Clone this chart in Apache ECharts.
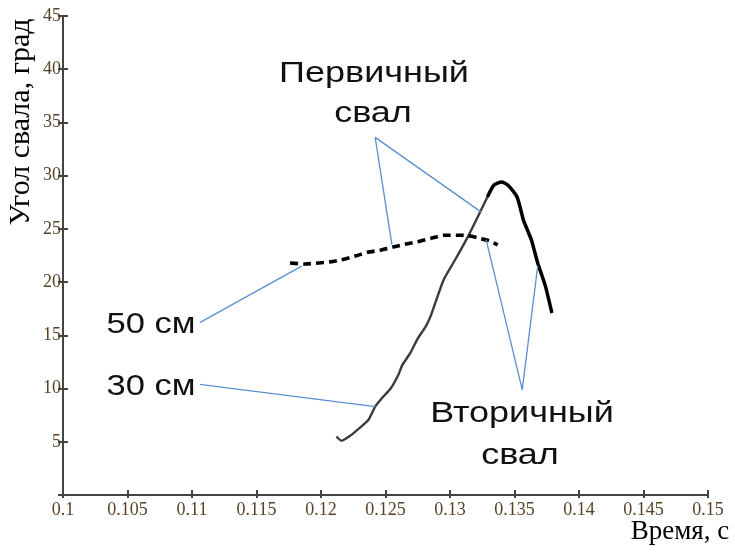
<!DOCTYPE html>
<html>
<head>
<meta charset="utf-8">
<script src="https://cdn.jsdelivr.net/npm/echarts@6/dist/echarts.min.js"></script>
<style>html,body{margin:0;padding:0;background:#fff}#c{width:735px;height:556px}</style>
</head>
<body>
<div id="c"></div>
<script>
// ---- Data ----
// 50 cm curve (dashed): time [s], angle [deg]
const time50 = [0.1176, 0.1188, 0.1198, 0.1207, 0.1216, 0.1228, 0.1236, 0.1246, 0.1256, 0.1267, 0.1275, 0.1285, 0.1295, 0.1309, 0.1317, 0.1323, 0.1330, 0.1337];
const angle50 = [21.8, 21.7, 21.8, 21.9, 22.1, 22.5, 22.8, 23.0, 23.3, 23.6, 23.8, 24.1, 24.4, 24.4, 24.3, 24.1, 23.9, 23.5];
// 30 cm curve, rising part (thin grey)
const time30rise = [0.1212, 0.1216, 0.1223, 0.1230, 0.1237, 0.1242, 0.1248, 0.1254, 0.1260, 0.1263, 0.1269, 0.1275, 0.1281, 0.1285, 0.1295, 0.1304, 0.1314, 0.1323, 0.1329];
const angle30rise = [5.5, 5.1, 5.6, 6.3, 7.1, 8.3, 9.2, 10.0, 11.3, 12.2, 13.3, 14.7, 15.8, 16.8, 20.2, 22.1, 24.3, 26.5, 28.0];
// 30 cm curve, peak and falling part (thick black)
const time30fall = [0.1329, 0.1334, 0.1340, 0.1345, 0.1352, 0.1357, 0.1363, 0.1368, 0.1374, 0.1379];
const angle30fall = [28.0, 29.1, 29.4, 29.1, 28.0, 25.8, 24.0, 21.8, 19.6, 17.1];
// Axis ticks
const xMin = 0.1, xMax = 0.15, xStep = 0.005;
const yMin = 0, yMax = 45, yStep = 5;
// Labels
const yName = 'Угол свала, град';
const xName = 'Время, с';
const notePrimary = ['Первичный', 'свал'];
const noteSecondary = ['Вторичный', 'свал'];
const note50 = '50 см';
const note30 = '30 см';
// Leader lines (data coordinates): [from, to]
const leaderLines = [
  [[0.1242, 33.6], [0.1255, 23.5]],
  [[0.1242, 33.6], [0.1324, 26.6]],
  [[0.1106, 16.2], [0.1185, 21.5]],
  [[0.1106, 10.4], [0.1242, 8.3]],
  [[0.1356, 9.9], [0.1328, 24.0]],
  [[0.1356, 9.9], [0.1368, 21.5]]
];

const zip = (a, b) => a.map((v, i) => [v, b[i]]);
const chart = echarts.init(document.getElementById('c'), null, {renderer: 'canvas'});
const tickFont = {fontFamily: 'Liberation Serif', fontSize: 18, color: '#574226'};
const axisColor = '#444444';
const annoFont = '30px "Liberation Sans"';

const option = {
  backgroundColor: '#ffffff',
  animation: false,
  grid: {left: 63, right: 27, top: 16, bottom: 61, containLabel: false},
  xAxis: [{
    type: 'value', min: xMin, max: xMax, interval: xStep, position: 'bottom',
    axisLine: {show: true, onZero: false, lineStyle: {color: axisColor, width: 2}},
    axisTick: {show: true, inside: false, length: 3, lineStyle: {color: axisColor, width: 2}},
    axisLabel: Object.assign({margin: 6, formatter: v => String(+v.toFixed(3))}, tickFont),
    splitLine: {show: false}
  }, {
    type: 'value', min: xMin, max: xMax, interval: xStep, position: 'bottom',
    axisLine: {show: false},
    axisTick: {show: true, inside: true, length: 5, lineStyle: {color: axisColor, width: 2}},
    axisLabel: {show: false}, splitLine: {show: false}
  }],
  yAxis: [{
    type: 'value', min: yMin, max: yMax, interval: yStep, position: 'left',
    axisLine: {show: true, onZero: false, lineStyle: {color: axisColor, width: 2}},
    axisTick: {show: true, inside: false, length: 5, lineStyle: {color: axisColor, width: 2}},
    axisLabel: Object.assign({margin: 2, formatter: v => v === 0 ? '' : String(v)}, tickFont),
    splitLine: {show: false}
  }, {
    type: 'value', min: yMin, max: yMax, interval: yStep, position: 'left',
    axisLine: {show: false},
    axisTick: {show: true, inside: true, length: 5, lineStyle: {color: axisColor, width: 2}},
    axisLabel: {show: false}, splitLine: {show: false}
  }],
  series: [
    {
      name: '30 см (рост)', type: 'line', data: zip(time30rise, angle30rise),
      showSymbol: false, smooth: 0.2, lineStyle: {color: '#3c3c3c', width: 2.4},
      markLine: {
        silent: true, symbol: 'none', label: {show: false},
        lineStyle: {color: '#5b8fd1', width: 1.3, type: 'solid'},
        data: leaderLines.map(p => [{coord: p[0]}, {coord: p[1]}])
      }
    },
    {
      name: '30 см (спад)', type: 'line', data: zip(time30fall, angle30fall),
      showSymbol: false, smooth: 0.2, lineStyle: {color: '#000', width: 3.5}
    },
    {
      name: '50 см', type: 'line', data: zip(time50, angle50),
      showSymbol: false, smooth: 0.2, lineStyle: {color: '#000', width: 3.6, type: [8, 5]}
    }
  ],
  graphic: [
    {type: 'text', x: 21, y: 122, rotation: Math.PI / 2,
     style: {text: yName, font: '30px "Liberation Serif"', fill: '#000', align: 'center', verticalAlign: 'middle'}},
    {type: 'text', x: 680, y: 532,
     style: {text: xName, font: '27px "Liberation Serif"', fill: '#000', align: 'center', verticalAlign: 'middle'}},
    {type: 'text', x: 374, y: 74, scaleX: 1.2,
     style: {text: notePrimary[0], font: annoFont, fill: '#111', align: 'center', verticalAlign: 'middle'}},
    {type: 'text', x: 373, y: 114, scaleX: 1.2,
     style: {text: notePrimary[1], font: annoFont, fill: '#111', align: 'center', verticalAlign: 'middle'}},
    {type: 'text', x: 522, y: 414, scaleX: 1.2,
     style: {text: noteSecondary[0], font: annoFont, fill: '#111', align: 'center', verticalAlign: 'middle'}},
    {type: 'text', x: 520, y: 456, scaleX: 1.2,
     style: {text: noteSecondary[1], font: annoFont, fill: '#111', align: 'center', verticalAlign: 'middle'}},
    {type: 'text', x: 151, y: 325, scaleX: 1.15,
     style: {text: note50, font: annoFont, fill: '#111', align: 'center', verticalAlign: 'middle'}},
    {type: 'text', x: 151, y: 387, scaleX: 1.15,
     style: {text: note30, font: annoFont, fill: '#111', align: 'center', verticalAlign: 'middle'}}
  ]
};
chart.setOption(option);
</script>
</body>
</html>
